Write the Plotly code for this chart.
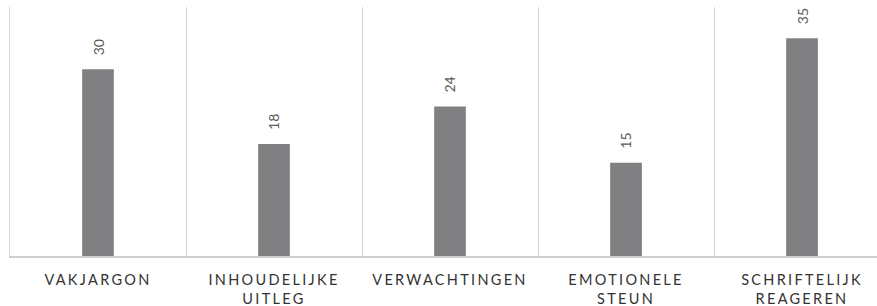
import plotly.graph_objects as go

categories = ["VAKJARGON", "INHOUDELIJKE<br>UITLEG", "VERWACHTINGEN", "EMOTIONELE<br>STEUN", "SCHRIFTELIJK<br>REAGEREN"]
values = [30, 18, 24, 15, 35]

fig = go.Figure()
fig.add_trace(go.Bar(
    x=categories, y=values,
    width=0.18, marker=dict(color="#808083", line=dict(width=0)),
    hoverinfo="skip",
))

for c, v in zip(categories, values):
    fig.add_annotation(
        x=c, y=v, text=str(v), textangle=-90, showarrow=False,
        yanchor="bottom", yshift=12,
        font=dict(family="Lato, Open Sans, sans-serif", size=14, color="#595959"),
    )

fig.update_layout(
    width=877, height=306,
    margin=dict(l=10, r=0, t=7, b=50),
    paper_bgcolor="white", plot_bgcolor="white",
    showlegend=False,
    font=dict(family="Lato, Open Sans, sans-serif"),
)
fig.update_xaxes(
    type="category",
    range=[-0.5, 4.426],
    showgrid=True, gridcolor="#d9d9d9", gridwidth=1,
    tickson="boundaries", ticks="",
    showline=True, linecolor="#d0d0d0", linewidth=2,
    tickfont=dict(family="Lato, Open Sans, sans-serif", size=14.5, color="#333333"),
    ticklabelstandoff=10,
    zeroline=False,
)
fig.update_yaxes(
    range=[0, 40], showgrid=False, showticklabels=False, zeroline=False,
    showline=True, linecolor="#d9d9d9", linewidth=1, ticks="",
)

post = """
document.body.style.margin='0';
document.querySelectorAll('.xtick text').forEach(function(t){t.style.letterSpacing='2.3px';});
"""
fig.write_html("out.html", post_script=post, config={"displayModeBar": False})
